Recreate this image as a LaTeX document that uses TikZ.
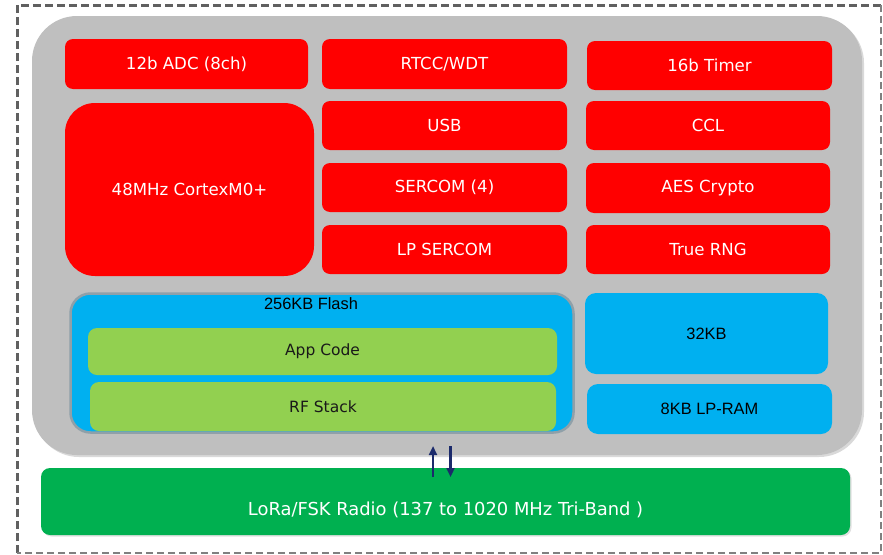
\documentclass[tikz,border=0pt]{standalone}
\usepackage{fontspec}
\usetikzlibrary{arrows.meta,shadows}
\newfontfamily\dvfont{DejaVu Sans}
\newfontfamily\lsfont{Liberation Sans}
\definecolor{chipgray}{HTML}{BFBFBF}
\definecolor{bred}{HTML}{FF0000}
\definecolor{bblue}{HTML}{00B0F0}
\definecolor{lgreen}{HTML}{92D050}
\definecolor{dgreen}{HTML}{00B050}
\definecolor{flashrim}{HTML}{8FA0A9}
\definecolor{navy}{HTML}{1B2A6B}
\definecolor{dashgray}{HTML}{606060}
\tikzset{
  blk/.style={inner sep=0pt, outer sep=0pt, align=center},
  redbox/.style={blk, fill=bred, rounded corners=8pt, text=white,
    font=\dvfont\fontsize{16.6}{19}\selectfont},
  bluebox/.style={blk, fill=bblue, rounded corners=11pt, text=black,
    font=\lsfont\fontsize{16.4}{19}\selectfont},
  greenbox/.style={blk, fill=lgreen, rounded corners=9pt, text=black!90,
    font=\dvfont\fontsize{15.5}{18}\selectfont},
  bus/.style={line width=2.2pt, navy, -{Triangle[length=9pt,width=8pt]}},
}
\begin{document}
\begin{tikzpicture}[x=1pt,y=-1pt]
\useasboundingbox (0,0) rectangle (883,554);
% outer dashed frame
\draw[dashgray, line width=3pt, dash pattern=on 8pt off 4pt] (17,553) -- (17,5) -- (881,5);
\draw[dashgray!80, line width=1.3pt, dash pattern=on 7pt off 4pt] (881,5) -- (881,553) -- (17,553);
% chip body
\node[blk, fill=chipgray, rounded corners=45pt, minimum width=830pt, minimum height=439pt,
  drop shadow={shadow xshift=2pt, shadow yshift=-2pt, opacity=0.25, fill=black!60}] (chip) at (447,235.5) {};
% red blocks
\node[redbox, minimum width=243pt, minimum height=50pt] (adc) at (186.5,64) {12b ADC (8ch)};
\node[redbox, minimum width=245pt, minimum height=50pt] (rtcc) at (444.5,64) {RTCC/WDT};
\node[redbox, minimum width=245pt, minimum height=49pt] (timer) at (709.5,65.5) {16b Timer};
\node[redbox, rounded corners=30pt, minimum width=249pt, minimum height=173pt] (cpu) at (189.5,189.5) {48MHz CortexM0+};
\node[redbox, minimum width=245pt, minimum height=49pt] (usb) at (444.5,125.5) {USB};
\node[redbox, minimum width=244pt, minimum height=49pt] (ccl) at (708,125.5) {CCL};
\node[redbox, minimum width=245pt, minimum height=49pt] (sercom) at (444.5,187.5) {SERCOM (4)};
\node[redbox, minimum width=244pt, minimum height=50pt] (aes) at (708,188) {AES Crypto};
\node[redbox, minimum width=245pt, minimum height=49pt] (lpser) at (444.5,249.5) {LP SERCOM};
\node[redbox, minimum width=244pt, minimum height=49pt] (trng) at (708,249.5) {True RNG};
% flash
\node[blk, fill=bblue, draw=flashrim, line width=2.5pt, rounded corners=20pt,
  minimum width=503pt, minimum height=139pt] (flash) at (322,363) {};
\node[blk, font=\lsfont\fontsize{16.4}{19}\selectfont, text=black] (flashlbl) at (311,304) {256KB Flash};
\node[greenbox, minimum width=469pt, minimum height=47pt] (app) at (322.5,351.5) {App Code};
\node[greenbox, minimum width=466pt, minimum height=49pt] (rf) at (323,406.5) {RF Stack};
% RAM
\node[bluebox, minimum width=243pt, minimum height=81pt] (ram) at (706.5,333.5) {32KB};
\node[bluebox, minimum width=245pt, minimum height=50pt] (lpram) at (709.5,409) {8KB LP-RAM};
% radio
\node[blk, fill=dgreen, rounded corners=9pt, minimum width=809pt, minimum height=67pt,
  drop shadow={shadow xshift=1.5pt, shadow yshift=-1.5pt, opacity=0.2, fill=black!60}] (radio) at (445.5,501.5) {};
\node[blk, text=white, font=\dvfont\fontsize{17.9}{21}\selectfont] (radiolbl) at (445.5,510) {LoRa/FSK Radio (137 to 1020 MHz Tri-Band )};
% bus arrows
\coordinate (upS) at (433,477);
\coordinate (upE) at (433,446);
\coordinate (dnS) at (450.5,446);
\coordinate (dnE) at (450.5,477);
\draw[bus] (upS) -- (upE);
\draw[bus] (dnS) -- (dnE);
\end{tikzpicture}
\end{document}
